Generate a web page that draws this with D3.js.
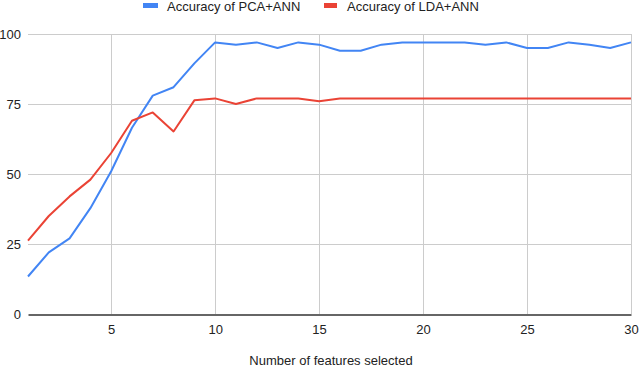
<!DOCTYPE html>
<html>
<head>
<meta charset="utf-8">
<script src="https://cdn.jsdelivr.net/npm/d3@7"></script>
<style>
  html, body { margin: 0; padding: 0; background: #fff; }
  svg { display: block; font-family: 'Liberation Sans', Arial, sans-serif; }
</style>
</head>
<body>
<svg id="chart"></svg>
<script>
// number of features selected, 1..30
const features = d3.range(1, 31);

const pca_ann = [13.4, 22, 27, 37.8, 51, 66.5, 78, 81, 89.5, 97,
                 96.2, 97, 95, 97, 96.2, 94, 94, 96.2, 97, 97,
                 97, 97, 96.2, 97, 95, 95, 97, 96.2, 95, 97];
const lda_ann = [26.2, 35, 42, 48, 57.5, 69, 72, 65.2, 76.3, 77,
                 75, 77, 77, 77, 76, 77, 77, 77, 77, 77,
                 77, 77, 77, 77, 77, 77, 77, 77, 77, 77];

const series = [
  { name: 'Accuracy of PCA+ANN', color: '#4285f4', values: pca_ann },
  { name: 'Accuracy of LDA+ANN', color: '#ea4335', values: lda_ann }
];

const x_ticks = [5, 10, 15, 20, 25, 30];
const y_ticks = [0, 25, 50, 75, 100];

const width = 640, height = 368;
const margin = { top: 34, right: 9, bottom: 54, left: 28 };

const svg = d3.select('#chart').attr('width', width).attr('height', height);

const sx = d3.scaleLinear().domain([1, 30])
  .range([margin.left, width - margin.right]);
const sy = d3.scaleLinear().domain([0, 100])
  .range([height - margin.bottom, margin.top]);

// grid ==========================================================
const grid = svg.append('g').attr('stroke', '#cccccc').attr('stroke-width', 1);
grid.selectAll('line.h').data(y_ticks.filter(d => d > 0)).join('line')
  .attr('class', 'h')
  .attr('x1', margin.left).attr('x2', width - margin.right)
  .attr('y1', d => Math.round(sy(d)) + 0.5).attr('y2', d => Math.round(sy(d)) + 0.5);
grid.selectAll('line.v').data(x_ticks).join('line')
  .attr('class', 'v')
  .attr('y1', margin.top).attr('y2', height - margin.bottom)
  .attr('x1', d => Math.round(sx(d)) + 0.5).attr('x2', d => Math.round(sx(d)) + 0.5);

// axes ==========================================================
const ax = svg.append('g')
  .attr('transform', `translate(0,${Math.round(sy(0)) + 0.5})`)
  .call(d3.axisBottom(sx).tickValues(x_ticks).tickSize(0).tickPadding(10));
ax.select('.domain').attr('stroke', '#333').attr('stroke-width', 1.3);
ax.selectAll('text').attr('font-size', 13).attr('fill', '#222')
  .attr('font-family', "'Liberation Sans', Arial, sans-serif");

const ay = svg.append('g')
  .attr('transform', `translate(${margin.left},0)`)
  .call(d3.axisLeft(sy).tickValues(y_ticks).tickSize(0).tickPadding(7));
ay.select('.domain').remove();
ay.selectAll('text').attr('font-size', 13).attr('fill', '#222')
  .attr('font-family', "'Liberation Sans', Arial, sans-serif");

// lines =========================================================
const line = d3.line().x((d, i) => sx(features[i])).y(d => sy(d));
svg.append('g').attr('fill', 'none')
  .selectAll('path').data(series).join('path')
  .attr('stroke', d => d.color)
  .attr('stroke-width', 2)
  .attr('stroke-linejoin', 'round')
  .attr('d', d => line(d.values));

// legend ========================================================
const leg = svg.append('g').attr('font-size', 13).attr('fill', '#222');
const legend_x = [143, 324];
series.forEach((s, i) => {
  leg.append('rect').attr('x', legend_x[i]).attr('y', 3)
    .attr('width', i ? 13 : 15).attr('height', 5).attr('fill', s.color);
  leg.append('text').attr('x', legend_x[i] + (i ? 23 : 24)).attr('y', 10.5).text(s.name);
});

// x title =======================================================
svg.append('text')
  .attr('x', 331).attr('y', 365)
  .attr('text-anchor', 'middle').attr('font-size', 13).attr('fill', '#222')
  .text('Number of features selected');
</script>
</body>
</html>
